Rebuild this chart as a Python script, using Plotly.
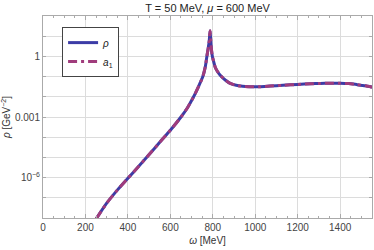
import plotly.graph_objects as go

omega = [250, 300, 350, 400, 450, 500, 550, 600, 650, 680, 707, 730, 753,
         765, 772, 778, 783, 787, 790, 793, 798, 805, 811, 822, 835, 860, 882, 910, 940,
         976, 1020, 1070, 1130, 1200, 1260, 1306, 1350, 1400, 1440, 1480, 1520, 1550]
rho_vals = [8.9e-9, 5.4e-8, 2.4e-7, 9.3e-7, 3.5e-6, 1.38e-5, 5.6e-5, 2.2e-4, 1.0e-3,
            2.8e-3, 8.9e-3, 2.8e-2, 0.1,
            0.32, 1.0, 2.4, 5.6, 18.6, 7.1, 2.5, 1.0, 0.5, 0.30, 0.18, 0.117, 0.066, 0.046,
            0.037, 0.033, 0.0316, 0.0316, 0.034, 0.037, 0.041, 0.044, 0.046, 0.047, 0.047,
            0.045, 0.040, 0.035, 0.030]
a1_vals = [8.9e-9, 5.4e-8, 2.4e-7, 9.3e-7, 3.5e-6, 1.38e-5, 5.6e-5, 2.2e-4, 1.0e-3,
           2.8e-3, 8.9e-3, 2.8e-2, 0.1,
           0.32, 1.0, 2.4, 5.6, 18.6, 7.1, 2.5, 1.0, 0.5, 0.30, 0.18, 0.117, 0.066, 0.046,
           0.037, 0.033, 0.0316, 0.0316, 0.034, 0.037, 0.041, 0.044, 0.046, 0.047, 0.047,
           0.045, 0.040, 0.035, 0.030]

x_ticks = [0, 200, 400, 600, 800, 1000, 1200, 1400]
y_tickvals = [1e-7, 1e-6, 1e-5, 1e-4, 1e-3, 1e-2, 1e-1, 1, 10, 100]
y_ticktext = ["", "10<sup>\u22126</sup>", "", "", "0.001", "", "", "1", "", ""]

blue = "#3c3ca6"
purple = "#a03c7c"
font = "Liberation Sans, Arial, sans-serif"

fig = go.Figure()
fig.add_trace(go.Scatter(x=omega, y=rho_vals, mode="lines", name="<i>\u03c1</i>",
                         line=dict(color=blue, width=3, shape="spline", smoothing=0.5)))
fig.add_trace(go.Scatter(x=omega, y=a1_vals, mode="lines", name="<i>a</i><sub>1</sub>",
                         line=dict(color=purple, width=3, dash="9px,4px,3px,4px",
                                   shape="spline", smoothing=0.5)))

fig.update_layout(
    width=374, height=250,
    margin=dict(l=43, r=2, t=16, b=32),
    paper_bgcolor="white", plot_bgcolor="white",
    font=dict(family=font, size=10, color="#444"),
    title=dict(text="T = 50 MeV, <i>\u03bc</i> = 600 MeV", x=0.555, xanchor="center",
               y=0.968, yanchor="middle", font=dict(size=11, color="#222")),
    showlegend=True,
    legend=dict(x=0.058, y=0.945, xanchor="left", yanchor="top",
                bordercolor="#444", borderwidth=1, bgcolor="white",
                font=dict(size=10, color="#222"), itemwidth=30,
                tracegroupgap=0, traceorder="normal"),
)
fig.update_xaxes(
    range=[0, 1550], tickvals=x_ticks, automargin=False,
    showgrid=True, gridcolor="#dcdcdc", gridwidth=1,
    showline=True, linecolor="#aaa", linewidth=1, mirror="ticks",
    ticks="inside", ticklen=4, tickcolor="#aaa",
    minor=dict(dtick=50, ticks="inside", ticklen=2, tickcolor="#aaa", showgrid=False),
    title=dict(text="<i>\u03c9</i> [MeV]", standoff=4, font=dict(size=10, color="#333")),
    zeroline=False,
)
fig.update_yaxes(
    type="log", range=[-8, 2], tickvals=y_tickvals, ticktext=y_ticktext, automargin=False,
    showgrid=True, gridcolor="#dcdcdc", gridwidth=1,
    showline=True, linecolor="#aaa", linewidth=1, mirror="ticks",
    ticks="inside", ticklen=3, tickcolor="#aaa",
    title=dict(text="<i>\u03c1</i> [GeV<sup>\u22122</sup>]", standoff=2,
               font=dict(size=10, color="#333")),
    zeroline=False,
)

fig.write_html("out.html", config={"displayModeBar": False},
               post_script="document.body.style.margin='0';")
